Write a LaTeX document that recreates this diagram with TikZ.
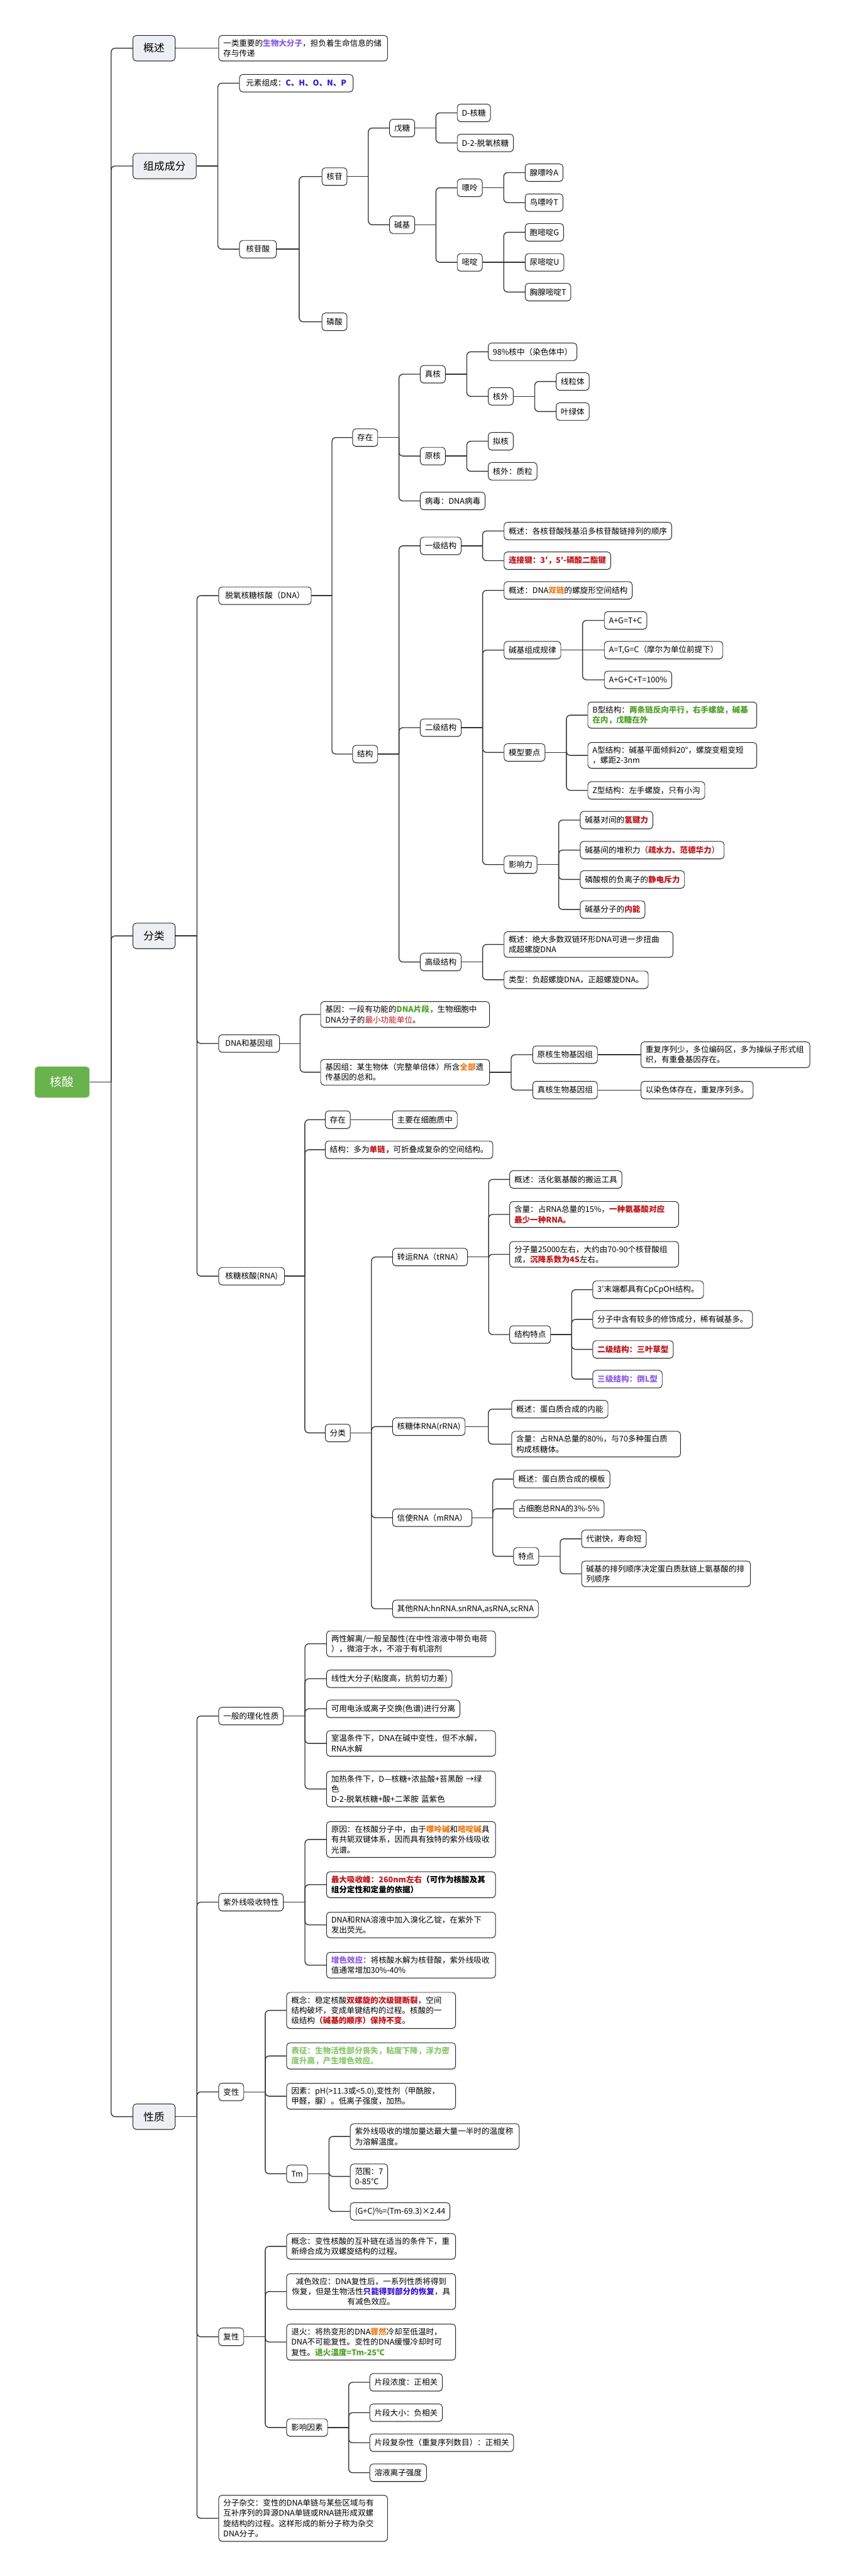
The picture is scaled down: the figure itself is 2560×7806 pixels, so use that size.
\documentclass[tikz,border=0pt]{standalone}
\usepackage{fontspec}
\setmainfont{Noto Sans CJK SC}
\usetikzlibrary{calc,shadows}
\definecolor{cmain}{RGB}{236,240,245}
\definecolor{croot}{RGB}{106,178,78}
\definecolor{cpurple}{RGB}{142,92,226}
\definecolor{cblue}{RGB}{58,20,210}
\definecolor{cred}{RGB}{192,20,24}
\definecolor{corange}{RGB}{236,122,22}
\definecolor{cgreen}{RGB}{78,160,40}
\definecolor{clgreen}{RGB}{138,200,108}

\begin{document}
\begin{tikzpicture}[x=0.5pt,y=-0.5pt,
  link/.style={draw=black!80, line width=1.3pt},
  itembox/.style={draw=black!85, line width=0.9pt, fill=white, rounded corners=5pt,
    anchor=west, align=left, inner xsep=7pt, inner ysep=6pt, minimum height=26.5pt,
    font=\fontsize{12}{15.5}\selectfont,
    drop shadow={shadow xshift=0pt, shadow yshift=-1pt, opacity=.5}},
  subbox/.style={itembox, inner xsep=10pt},
  notebox/.style={itembox, text width=242pt},
  topicbox/.style={itembox, fill=cmain, inner xsep=16pt, minimum height=38.5pt,
    font=\fontsize{16}{19}\selectfont},
  rootbox/.style={fill=croot, text=white, rounded corners=5pt, anchor=west,
    minimum height=47pt, minimum width=83pt, font=\fontsize{18}{22}\selectfont}]
\useasboundingbox (0,0) rectangle (2560,7806);

% root and main branches
\node[rootbox] (hs) at (105,3279) {核酸};
\node[topicbox] (gs) at (402,146) {概述};
\node[topicbox] (zc) at (402,503) {组成成分};
\node[topicbox] (fl) at (402,2836) {分类};
\node[topicbox] (xz) at (402,6414) {性质};

% 概述
\node[notebox] (gs1) at (662,146) {一类重要的\textcolor{cpurple}{\bfseries 生物大分子}，担负着生命信息的储\\存与传递};

% 组成成分
\node[subbox] (ys) at (725,252) {元素组成：\textcolor{cblue}{\bfseries C、H、O、N、P}};
\node[subbox] (hgs) at (725,755) {核苷酸};
\node[itembox] (hg) at (975,535) {核苷};
\node[itembox] (ls) at (975,975) {磷酸};
\node[itembox] (wt) at (1180,388) {戊糖};
\node[itembox] (jj) at (1180,681) {碱基};
\node[itembox] (dht) at (1385,342) {D-核糖};
\node[itembox] (dtt) at (1385,433) {D-2-脱氧核糖};
\node[itembox] (pl) at (1385,569) {嘌呤};
\node[itembox] (md) at (1385,795) {嘧啶};
\node[itembox] (bA) at (1591,523) {腺嘌呤A};
\node[itembox] (bG) at (1591,614) {鸟嘌呤T};
\node[itembox] (bC) at (1591,704) {胞嘧啶G};
\node[itembox] (bU) at (1591,795) {尿嘧啶U};
\node[itembox] (bT) at (1591,885) {胸腺嘧啶T};

% 分类 - DNA
\node[subbox] (dna) at (662,1805) {脱氧核糖核酸（DNA）};
\node[itembox] (dcz) at (1068,1326) {存在};
\node[itembox] (djg) at (1068,2285) {结构};
\node[itembox] (zh) at (1273,1134) {真核};
\node[itembox] (yh) at (1273,1382) {原核};
\node[itembox] (bd) at (1273,1518) {病毒：DNA病毒};
\node[itembox] (zh1) at (1479,1066) {98\%核中（染色体中）};
\node[itembox] (zhw) at (1479,1201) {核外};
\node[itembox] (xlt) at (1685,1156) {线粒体};
\node[itembox] (ylt) at (1685,1247) {叶绿体};
\node[itembox] (nh) at (1479,1337) {拟核};
\node[itembox] (yhw) at (1479,1428) {核外：质粒};
\node[itembox] (yj) at (1273,1654) {一级结构};
\node[itembox] (ej) at (1273,2205) {二级结构};
\node[itembox] (gj) at (1273,2915) {高级结构};
\node[itembox] (yj1) at (1527,1609) {概述：各核苷酸残基沿多核苷酸链排列的顺序};
\node[itembox] (yj2) at (1527,1699) {\textcolor{cred}{\bfseries 连接键：3′，5′-磷酸二酯键}};
\node[itembox] (ej1) at (1527,1789) {概述：DNA\textcolor{corange}{\bfseries 双链}的螺旋形空间结构};
\node[itembox] (jz) at (1527,1970) {碱基组成规律};
\node[itembox] (mx) at (1527,2280) {模型要点};
\node[itembox] (yx) at (1527,2620) {影响力};
\node[itembox] (jz1) at (1831,1880) {A+G=T+C};
\node[itembox] (jz2) at (1831,1970) {A=T,G=C（摩尔为单位前提下）};
\node[itembox] (jz3) at (1831,2060) {A+G+C+T=100\%};
\node[notebox] (mxb) at (1781,2167) {B型结构：\textcolor{cgreen}{\bfseries 两条链反向平行，右手螺旋，碱基}\\\textcolor{cgreen}{\bfseries 在内，戊糖在外}};
\node[notebox] (mxa) at (1781,2289) {A型结构：碱基平面倾斜20°，螺旋变粗变短\\，螺距2-3nm};
\node[itembox] (mxz) at (1781,2395) {Z型结构：左手螺旋，只有小沟};
\node[itembox] (yx1) at (1758,2485) {碱基对间的\textcolor{cred}{\bfseries 氢键力}};
\node[itembox] (yx2) at (1758,2576) {碱基间的堆积力（\textcolor{cred}{\bfseries 疏水力、范德华力}）};
\node[itembox] (yx3) at (1758,2665) {磷酸根的负离子的\textcolor{cred}{\bfseries 静电斥力}};
\node[itembox] (yx4) at (1758,2756) {碱基分子的\textcolor{cred}{\bfseries 内能}};
\node[notebox] (gj1) at (1527,2862) {概述：绝大多数双链环形DNA可进一步扭曲\\成超螺旋DNA};
\node[itembox] (gj2) at (1527,2969) {类型：负超螺旋DNA，正超螺旋DNA。};

% 分类 - DNA和基因组
\node[subbox] (jyz) at (662,3162) {DNA和基因组};
\node[notebox] (jy) at (971,3074) {基因：一段有功能的\textcolor{cgreen}{\bfseries DNA片段，}生物细胞中\\DNA分子的\textcolor{cred}{最小功能单位}。};
\node[notebox] (jyzz) at (971,3249) {基因组：某生物体（完整单倍体）所含\textcolor{corange}{\bfseries 全部}遗\\传基因的总和。};
\node[itembox] (ysh) at (1614,3196) {原核生物基因组};
\node[itembox] (zsh) at (1614,3303) {真核生物基因组};
\node[notebox] (ysh1) at (1942,3196) {重复序列少，多位编码区，多为操纵子形式组\\织，有重叠基因存在。};
\node[itembox] (zsh1) at (1942,3303) {以染色体存在，重复序列多。};

% 分类 - RNA
\node[subbox] (rna) at (662,3867) {核糖核酸(RNA)};
\node[itembox] (rcz) at (985,3393) {存在};
\node[itembox] (rcz1) at (1189,3393) {主要在细胞质中};
\node[itembox] (rjg) at (985,3484) {结构：多为\textcolor{cred}{\bfseries 单链，}可折叠成复杂的空间结构。};
\node[itembox] (rfl) at (985,4342) {分类};
\node[itembox] (trna) at (1189,3809) {转运RNA（tRNA）};
\node[itembox] (rrna) at (1189,4323) {核糖体RNA(rRNA)};
\node[itembox] (mrna) at (1189,4599) {信使RNA（mRNA）};
\node[itembox] (orna) at (1189,4875) {其他RNA:hnRNA.snRNA,asRNA,scRNA};
\node[itembox] (t1) at (1544,3574) {概述：活化氨基酸的搬运工具};
\node[notebox] (t2) at (1544,3680) {含量：占RNA总量的15\%，\textcolor{cred}{\bfseries 一种氨基酸对应}\\\textcolor{cred}{\bfseries 最少一种RNA。}};
\node[notebox] (t3) at (1544,3801) {分子量25000左右，大约由70-90个核苷酸组\\成，\textcolor{cred}{\bfseries 沉降系数为4S}左右。};
\node[itembox] (tjt) at (1544,4044) {结构特点};
\node[itembox] (tj1) at (1796,3908) {3′末端都具有CpCpOH结构。};
\node[itembox] (tj2) at (1796,3998) {分子中含有较多的修饰成分，稀有碱基多。};
\node[itembox] (tj3) at (1796,4089) {\textcolor{cred}{\bfseries 二级结构：三叶草型}};
\node[itembox] (tj4) at (1796,4179) {\textcolor{cpurple}{\bfseries 三级结构：倒L型}};
\node[itembox] (r1) at (1550,4270) {概述：蛋白质合成的内能};
\node[notebox] (r2) at (1550,4376) {含量：占RNA总量的80\%，与70多种蛋白质\\构成核糖体。};
\node[itembox] (m1) at (1556,4482) {概述：蛋白质合成的模板};
\node[itembox] (m2) at (1556,4572) {占细胞总RNA的3\%-5\%};
\node[itembox] (mtd) at (1556,4716) {特点};
\node[itembox] (mt1) at (1762,4663) {代谢快，寿命短};
\node[notebox] (mt2) at (1762,4769) {碱基的排列顺序决定蛋白质肽链上氨基酸的排\\列顺序};

% 性质
\node[itembox] (lh) at (662,5200) {一般的理化性质};
\node[notebox] (lh1) at (989,4981) {两性解离/一般呈酸性(在中性溶液中带负电荷\\），微溶于水，不溶于有机溶剂};
\node[itembox] (lh2) at (989,5087) {线性大分子(粘度高，抗剪切力差)};
\node[itembox] (lh3) at (989,5178) {可用电泳或离子交换(色谱)进行分离};
\node[notebox] (lh4) at (989,5283) {室温条件下，DNA在碱中变性，但不水解，\\RNA水解};
\node[notebox] (lh5) at (989,5421) {加热条件下，D—核糖+浓盐酸+苔黑酚 →绿\\色\\D-2-脱氧核糖+酸+二苯胺 蓝紫色};
\node[itembox] (zw) at (662,5764) {紫外线吸收特性};
\node[notebox] (zw1) at (989,5574) {原因：在核酸分子中，由于\textcolor{corange}{\bfseries 嘌呤碱}和\textcolor{corange}{\bfseries 嘧啶碱}具\\有共轭双键体系，因而具有独特的紫外线吸收\\光谱。};
\node[notebox] (zw2) at (989,5711) {\textcolor{cred}{\bfseries 最大吸收峰：260nm左右}{\bfseries（可作为核酸及其}\\{\bfseries 组分定性和定量的依据）}};
\node[notebox] (zw3) at (989,5833) {DNA和RNA溶液中加入溴化乙锭，在紫外下\\发出荧光。};
\node[notebox] (zw4) at (989,5955) {\textcolor{cpurple}{\bfseries 增色效应：}将核酸水解为核苷酸，紫外线吸收\\值通常增加30\%-40\%};
\node[itembox] (bx) at (662,6339) {变性};
\node[notebox] (bx1) at (868,6092) {概念：稳定核酸\textcolor{cred}{\bfseries 双螺旋的次级键断裂}，空间\\结构破坏，变成单键结构的过程。核酸的一\\级结构\textcolor{cred}{\bfseries （碱基的顺序）保持不变}。};
\node[notebox] (bx2) at (868,6230) {\textcolor{clgreen}{\bfseries 表征：生物活性部分丧失，粘度下降，浮力密}\\\textcolor{clgreen}{\bfseries 度升高，产生增色效应。}};
\node[notebox] (bx3) at (868,6352) {因素：pH(>11.3或<5.0),变性剂（甲酰胺，\\甲醛，脲）。低离子强度，加热。};
\node[itembox] (tm) at (868,6587) {Tm};
\node[notebox] (tm1) at (1061,6474) {紫外线吸收的增加量达最大量一半时的温度称\\为溶解温度。};
\node[itembox] (tm2) at (1061,6595) {范围：7\\0-85℃};
\node[itembox] (tm3) at (1061,6701) {(G+C)\%=(Tm-69.3)×2.44};
\node[itembox] (fx) at (662,7081) {复性};
\node[notebox] (fx1) at (868,6807) {概念：变性核酸的互补链在适当的条件下，重\\新缔合成为双螺旋结构的过程。};
\node[notebox, align=center] (fx2) at (868,6944) {减色效应：DNA复性后，一系列性质将得到\\恢复，但是生物活性\textcolor{cblue}{\bfseries 只能得到部分的恢复}，具\\有减色效应。};
\node[notebox] (fx3) at (868,7097) {退火：将热变形的DNA\textcolor{corange}{\bfseries 骤然}冷却至低温时，\\DNA不可能复性。变性的DNA缓慢冷却时可\\复性。\textcolor{cgreen}{\bfseries 退火温度=Tm-25℃}};
\node[itembox] (yy) at (868,7356) {影响因素};
\node[itembox] (yy1) at (1120,7219) {片段浓度：正相关};
\node[itembox] (yy2) at (1120,7311) {片段大小：负相关};
\node[itembox] (yy3) at (1120,7402) {片段复杂性（重复序列数目）：正相关};
\node[itembox] (yy4) at (1120,7493) {溶液离子强度};
\node[notebox] (fz) at (662,7631) {分子杂交：变性的DNA单链与某些区域与有\\互补序列的异源DNA单链或RNA链形成双螺\\旋结构的过程。这样形成的新分子称为杂交\\DNA分子。};

% connectors with a bend
\foreach \p/\c in {hs/gs,hs/zc,hs/fl,hs/xz,zc/ys,zc/hgs,hgs/hg,hgs/ls,
  hg/wt,hg/jj,wt/dht,wt/dtt,jj/pl,jj/md,pl/bA,pl/bG,md/bC,md/bT,
  fl/dna,fl/jyz,fl/rna,dna/dcz,dna/djg,dcz/zh,dcz/yh,dcz/bd,zh/zh1,zh/zhw,
  zhw/xlt,zhw/ylt,yh/nh,yh/yhw,djg/yj,djg/ej,djg/gj,yj/yj1,yj/yj2,
  ej/ej1,ej/jz,ej/mx,ej/yx,jz/jz1,jz/jz3,mx/mxb,mx/mxa,mx/mxz,
  yx/yx1,yx/yx2,yx/yx3,yx/yx4,gj/gj1,gj/gj2,jyz/jy,jyz/jyzz,jyzz/ysh,jyzz/zsh,
  rna/rcz,rna/rjg,rna/rfl,rfl/trna,rfl/rrna,rfl/mrna,rfl/orna,
  trna/t1,trna/t2,trna/t3,trna/tjt,tjt/tj1,tjt/tj2,tjt/tj3,tjt/tj4,rrna/r1,rrna/r2,
  mrna/m1,mrna/m2,mrna/mtd,mtd/mt1,mtd/mt2,xz/lh,xz/zw,xz/bx,xz/fx,xz/fz,
  lh/lh1,lh/lh2,lh/lh3,lh/lh4,lh/lh5,zw/zw1,zw/zw2,zw/zw3,zw/zw4,
  bx/bx1,bx/bx2,bx/bx3,bx/tm,tm/tm1,tm/tm2,tm/tm3,fx/fx1,fx/fx2,fx/fx3,fx/yy,
  yy/yy1,yy/yy2,yy/yy3,yy/yy4}{
  \draw[link] (\p.east) -- ($(\p.east)!.5!(\p.east -| \c.west)$) coordinate (j);
  \draw[link, rounded corners=6pt] (j) |- (\c.west);
}
% straight connectors
\foreach \p/\c in {gs/gs1,jz/jz2,md/bU,ysh/ysh1,zsh/zsh1,rcz/rcz1}
  \draw[link] (\p.east) -- (\p.east -| \c.west);
\end{tikzpicture}
\end{document}
